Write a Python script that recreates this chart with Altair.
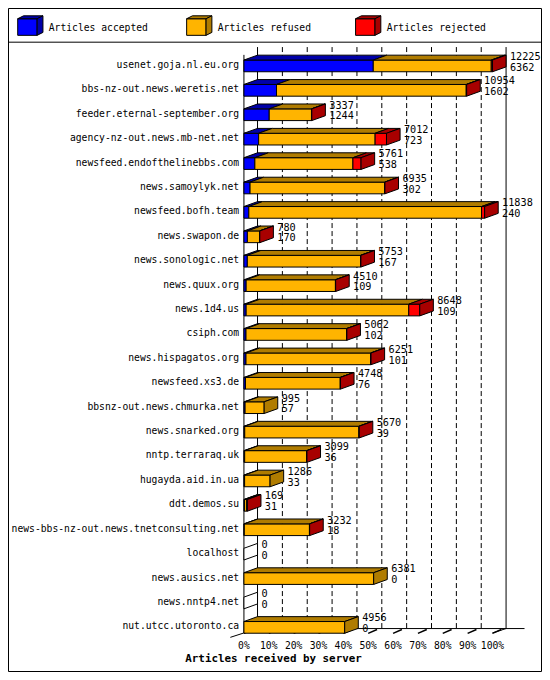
import altair as alt
import pandas as pd

# ---------------- data ----------------
servers = [
    "usenet.goja.nl.eu.org", "bbs-nz-out.news.weretis.net", "feeder.eternal-september.org",
    "agency-nz-out.news.mb-net.net", "newsfeed.endofthelinebbs.com", "news.samoylyk.net",
    "newsfeed.bofh.team", "news.swapon.de", "news.sonologic.net", "news.quux.org",
    "news.1d4.us", "csiph.com", "news.hispagatos.org", "newsfeed.xs3.de",
    "bbsnz-out.news.chmurka.net", "news.snarked.org", "nntp.terraraq.uk",
    "hugayda.aid.in.ua", "ddt.demos.su", "news-bbs-nz-out.news.tnetconsulting.net",
    "localhost", "news.ausics.net", "news.nntp4.net", "nut.utcc.utoronto.ca",
]
offered = [12225, 10954, 3337, 7012, 5761, 6935, 11838, 780, 5753, 4510, 8648, 5062,
           6251, 4748, 995, 5670, 3099, 1286, 169, 3232, 0, 6381, 0, 4956]
accepted = [6362, 1602, 1244, 723, 538, 302, 240, 170, 167, 109, 109, 102,
            101, 76, 57, 39, 36, 33, 31, 18, 0, 0, 0, 0]
refused = [5803, 9332, 2078, 5729, 4823, 6623, 11448, 605, 5576, 4391, 7999, 4950,
           6135, 4662, 938, 5621, 3053, 1253, 108, 3204, 0, 6381, 0, 4956]
rejected = [60, 20, 15, 560, 400, 10, 150, 5, 10, 10, 540, 10,
            15, 10, 0, 10, 10, 0, 30, 10, 0, 0, 0, 0]

pct_ticks = [0, 10, 20, 30, 40, 50, 60, 70, 80, 90, 100]
tick_labels = ["0%", "10%", "20%", "30%", "40%", "50%", "60%", "70%", "80%", "90%", "100%"]
legend_labels = ["Articles accepted", "Articles refused", "Articles rejected"]
seg_names = ["accepted", "refused", "rejected"]
x_title = "Articles received by server"

front_colors = ["#0000ff", "#ffb400", "#ff0000"]
dark_colors = ["#0000a8", "#b07c00", "#a80000"]

# ---------------- layout ----------------
W, H = 534, 664
SX, SY = W / 550, H / 680


def X(v):
    return v * SX


def Y(v):
    return v * SY


FONT = "DejaVu Sans Mono"
MAXV = max(offered)
DX = 14 / 256 * 100      # 3D depth, in percent units
DY = 0.2                 # 3D depth, in row units
HH = 0.24                # half bar height, in row units

xs = alt.Scale(domain=[0, 100], range=[X(243), X(499)], nice=False, zero=False)
ys = alt.Scale(domain=[0, len(servers) - 1], range=[Y(59.3), Y(634.3)], nice=False, zero=False)

front_rows, top_rows, side_rows, label_rows = [], [], [], []
for i, name in enumerate(servers):
    vals = [accepted[i], refused[i], rejected[i]]
    cum = 0
    last, end = "none", 0.0
    for k, v in enumerate(vals):
        if v <= 0:
            continue
        x0 = cum / MAXV * 100
        cum += v
        x1 = cum / MAXV * 100
        front_rows.append(dict(seg=seg_names[k], x0=x0, x1=x1, y0=i - HH, y1=i + HH))
        key = f"{i}-{k}"
        top_rows.append(dict(key=key, seg=seg_names[k], y=i - HH, xa=x0, xb=x1, o=0))
        top_rows.append(dict(key=key, seg=seg_names[k], y=i - HH - DY, xa=x0 + DX, xb=x1 + DX, o=1))
        last, end = seg_names[k], x1
    side_rows.append(dict(key=str(i), seg=last, x=end, ya=i - HH, yb=i + HH, o=0))
    side_rows.append(dict(key=str(i), seg=last, x=end + DX, ya=i - HH - DY, yb=i + HH - DY, o=1))
    label_rows.append(dict(row=i, server=name, total=str(offered[i]), acc=str(accepted[i]), xl=end + DX))

front_df = pd.DataFrame(front_rows)
top_df = pd.DataFrame(top_rows)
side_df = pd.DataFrame(side_rows)
label_df = pd.DataFrame(label_rows)
tick_df = pd.DataFrame({"pct": pct_ticks, "label": tick_labels})
one = pd.DataFrame({"t": [x_title]})

layers = []

# frame and legend separator
layers.append(alt.Chart(one).mark_rect(fill="white", stroke="black", strokeWidth=1).encode(
    x=alt.value(0.5), x2=alt.value(W - 0.5), y=alt.value(0.5), y2=alt.value(H - 0.5)))
layers.append(alt.Chart(one).mark_rule(color="black", strokeWidth=1).encode(
    x=alt.value(0), x2=alt.value(W), y=alt.value(Y(35))))

# back wall grid lines
grid = alt.Chart(tick_df).transform_calculate(back=f"datum.pct + {DX}")
layers.append(grid.transform_filter("datum.pct > 0 && datum.pct < 100").mark_rule(
    color="black", strokeWidth=1, strokeDash=[5, 3]).encode(
    x=alt.X("back:Q", scale=xs, axis=None), y=alt.value(Y(40)), y2=alt.value(Y(635.5))))
layers.append(grid.transform_filter("datum.pct == 0 || datum.pct == 100").mark_rule(
    color="black", strokeWidth=1).encode(
    x=alt.X("back:Q", scale=xs, axis=None), y=alt.value(Y(40)), y2=alt.value(Y(635.5))))

# floor lines
layers.append(alt.Chart(one).mark_rule(color="black", strokeWidth=1).encode(
    x=alt.value(X(257)), x2=alt.value(X(532)), y=alt.value(Y(635.5))))
layers.append(alt.Chart(one).mark_rule(color="black", strokeWidth=1).encode(
    x=alt.value(X(499)), x2=alt.value(X(513)), y=alt.value(Y(640)), y2=alt.value(Y(635.5))))
layers.append(alt.Chart(one).mark_rule(color="black", strokeWidth=1).encode(
    x=alt.value(X(229)), x2=alt.value(X(243)), y=alt.value(Y(644.5)), y2=alt.value(Y(640))))
# 3D tick marks on the floor
layers.append(alt.Chart(tick_df).transform_calculate(tip=f"datum.pct + {DX * 0.65}").mark_rule(
    color="black", strokeWidth=1.5).encode(
    x=alt.X("pct:Q", scale=xs, axis=None), x2="tip:Q",
    y=alt.value(Y(640.5)), y2=alt.value(Y(636.5))))

# front left axis line
layers.append(alt.Chart(one).mark_rule(color="black", strokeWidth=1).encode(
    x=alt.value(X(243)), y=alt.value(Y(48)), y2=alt.value(Y(640))))

# bars: front faces, one layer per segment kind with a fixed fill
for k, s in enumerate(seg_names):
    layers.append(alt.Chart(front_df).transform_filter(alt.datum.seg == s).mark_rect(
        fill=front_colors[k], stroke="black", strokeWidth=1).encode(
        x=alt.X("x0:Q", scale=xs, axis=None), x2="x1:Q",
        y=alt.Y("y0:Q", scale=ys, axis=None), y2="y1:Q"))

# bars: top faces
for k, s in enumerate(seg_names):
    layers.append(alt.Chart(top_df).transform_filter(alt.datum.seg == s).mark_area(
        orient="horizontal", fill=dark_colors[k], stroke="black", strokeWidth=1,
        opacity=1, fillOpacity=1).encode(
        y=alt.Y("y:Q", scale=ys, axis=None),
        x=alt.X("xa:Q", scale=xs, axis=None, stack=None), x2="xb:Q",
        detail="key:N"))

# bars: side faces
for s, col in zip(seg_names + ["none"], dark_colors + ["white"]):
    layers.append(alt.Chart(side_df).transform_filter(alt.datum.seg == s).mark_area(
        orient="vertical", fill=col, stroke="black", strokeWidth=1,
        opacity=1, fillOpacity=1).encode(
        x=alt.X("x:Q", scale=xs, axis=None),
        y=alt.Y("ya:Q", scale=ys, axis=None, stack=None), y2="yb:Q",
        detail="key:N"))

# server labels
layers.append(alt.Chart(label_df).mark_text(font=FONT, fontSize=10 * SX, align="right",
                                            baseline="middle", color="black", dy=-1).encode(
    x=alt.value(X(238)), y=alt.Y("row:Q", scale=ys, axis=None), text="server:N"))
# value labels
layers.append(alt.Chart(label_df).mark_text(font=FONT, fontSize=10.5 * SX, align="left",
                                            baseline="middle", color="black",
                                            dx=X(4), dy=-9.3 * SY).encode(
    x=alt.X("xl:Q", scale=xs, axis=None), y=alt.Y("row:Q", scale=ys, axis=None), text="total:N"))
layers.append(alt.Chart(label_df).mark_text(font=FONT, fontSize=10.5 * SX, align="left",
                                            baseline="middle", color="black",
                                            dx=X(4), dy=1.7 * SY).encode(
    x=alt.X("xl:Q", scale=xs, axis=None), y=alt.Y("row:Q", scale=ys, axis=None), text="acc:N"))

# x tick labels and title
layers.append(alt.Chart(tick_df).mark_text(font=FONT, fontSize=10 * SX, align="center",
                                           baseline="middle", color="black").encode(
    x=alt.X("pct:Q", scale=xs, axis=None), y=alt.value(Y(653)), text="label:N"))
layers.append(alt.Chart(one).mark_text(font=FONT, fontSize=11.2 * SX, fontWeight="bold",
                                       align="center", baseline="middle", color="black").encode(
    x=alt.value(X(273.5)), y=alt.value(Y(667)), text="t:N"))

# legend: 3D cubes
def pth(pts):
    return "M" + " L".join(f"{px * SX:.2f},{py * SY:.2f}" for px, py in pts) + " Z"


front_path = pth([(-10, -8.5), (10, -8.5), (10, 8.5), (-10, 8.5)])
top_path = pth([(-10, -8.5), (-4, -11.5), (16, -11.5), (10, -8.5)])
side_path = pth([(10, -8.5), (16, -11.5), (16, 5.5), (10, 8.5)])

for k, lab in enumerate(legend_labels):
    x0 = 10 + 174 * k
    cx, cy = X(x0 + 10), Y(19.5)
    for path, col in [(front_path, front_colors[k]), (top_path, dark_colors[k]), (side_path, dark_colors[k])]:
        layers.append(alt.Chart(one).mark_point(shape=path, size=4, filled=True, fill=col,
                                                stroke="black", strokeWidth=1, opacity=1).encode(
            x=alt.value(cx), y=alt.value(cy)))
    layers.append(alt.Chart(pd.DataFrame({"t": [lab]})).mark_text(
        font=FONT, fontSize=10 * SX, align="left", baseline="middle", color="black").encode(
        x=alt.value(X(x0 + 32)), y=alt.value(Y(20)), text="t:N"))

chart = alt.layer(*layers).properties(
    width=W, height=H, padding=0, autosize="none", background="white"
).configure_view(stroke=None)

chart.save("out.html", embed_options={"renderer": "svg", "actions": False})
